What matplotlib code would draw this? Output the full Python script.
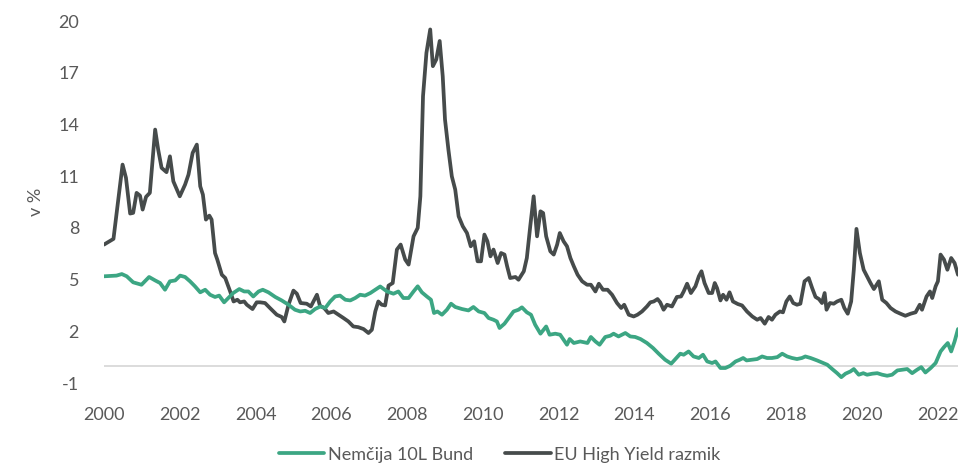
import matplotlib
matplotlib.use('Agg')
import matplotlib.pyplot as plt

# EU High Yield spread (dark line), decimal years
hy_years = [2000.00, 2000.25, 2000.49, 2000.58, 2000.69, 2000.77, 2000.86, 2000.95, 2001.02, 2001.11,
            2001.21, 2001.35, 2001.43, 2001.52, 2001.65, 2001.74, 2001.83, 2002.00, 2002.14, 2002.23,
            2002.34, 2002.45, 2002.54, 2002.61, 2002.69, 2002.78, 2002.84, 2002.93, 2002.99, 2003.11,
            2003.20, 2003.33, 2003.42, 2003.52, 2003.59, 2003.70, 2003.77, 2003.92, 2004.03, 2004.12,
            2004.25, 2004.38, 2004.56, 2004.69, 2004.76, 2004.87, 2005.00, 2005.09, 2005.19, 2005.35,
            2005.46, 2005.62, 2005.70, 2005.81, 2005.92, 2006.06, 2006.19, 2006.32, 2006.45, 2006.58,
            2006.71, 2006.85, 2006.98, 2007.07, 2007.16, 2007.24, 2007.33, 2007.42, 2007.51, 2007.62,
            2007.73, 2007.83, 2007.95, 2008.04, 2008.17, 2008.28, 2008.35, 2008.42, 2008.51, 2008.61,
            2008.68, 2008.77, 2008.86, 2008.94, 2009.00, 2009.09, 2009.18, 2009.27, 2009.36, 2009.47,
            2009.58, 2009.68, 2009.77, 2009.86, 2009.95, 2010.04, 2010.12, 2010.20, 2010.28, 2010.39,
            2010.48, 2010.57, 2010.64, 2010.72, 2010.86, 2010.94, 2011.08, 2011.16, 2011.25, 2011.34,
            2011.43, 2011.52, 2011.59, 2011.67, 2011.78, 2011.87, 2011.96, 2012.03, 2012.13, 2012.22,
            2012.31, 2012.40, 2012.50, 2012.62, 2012.75, 2012.85, 2012.97, 2013.06, 2013.17, 2013.29,
            2013.41, 2013.54, 2013.65, 2013.73, 2013.85, 2013.98, 2014.08, 2014.20, 2014.33, 2014.42,
            2014.51, 2014.61, 2014.68, 2014.77, 2014.86, 2014.99, 2015.12, 2015.23, 2015.30, 2015.39,
            2015.49, 2015.61, 2015.70, 2015.77, 2015.85, 2015.96, 2016.05, 2016.12, 2016.18, 2016.27,
            2016.34, 2016.43, 2016.51, 2016.60, 2016.73, 2016.84, 2016.97, 2017.11, 2017.24, 2017.33,
            2017.44, 2017.54, 2017.63, 2017.72, 2017.84, 2017.92, 2018.01, 2018.10, 2018.19, 2018.29,
            2018.38, 2018.49, 2018.60, 2018.69, 2018.78, 2018.87, 2018.95, 2019.02, 2019.07, 2019.16,
            2019.26, 2019.35, 2019.46, 2019.54, 2019.63, 2019.72, 2019.79, 2019.86, 2019.95, 2020.05,
            2020.14, 2020.23, 2020.32, 2020.45, 2020.54, 2020.65, 2020.76, 2020.89, 2021.02, 2021.15,
            2021.29, 2021.42, 2021.53, 2021.59, 2021.71, 2021.80, 2021.86, 2021.95, 2022.01, 2022.08,
            2022.17, 2022.26, 2022.36, 2022.45, 2022.54]
hy_spread = [7.03, 7.36, 11.67, 10.9, 8.83, 8.87, 10.03, 9.87, 9.06, 9.8,
             10.03, 13.7, 12.54, 11.48, 11.23, 12.15, 10.7, 9.83, 10.51, 11.09,
             12.35, 12.83, 10.41, 9.93, 8.48, 8.71, 8.48, 6.54, 6.16, 5.28,
             5.09, 4.31, 3.73, 3.83, 3.68, 3.73, 3.54, 3.29, 3.68, 3.68,
             3.64, 3.35, 2.96, 2.83, 2.57, 3.54, 4.36, 4.18, 3.64, 3.60,
             3.44, 4.12, 3.48, 3.35, 3.06, 3.15, 2.96, 2.77, 2.57, 2.28,
             2.24, 2.13, 1.90, 2.09, 3.15, 3.73, 3.54, 3.5, 4.65, 4.80,
             6.74, 7.03, 6.16, 5.87, 7.51, 8.0, 9.83, 15.64, 18.15, 19.51,
             17.38, 17.77, 18.84, 16.8, 14.29, 12.54, 10.99, 10.22, 8.67, 8.09,
             7.7, 6.93, 7.22, 6.06, 6.06, 7.61, 7.22, 6.35, 6.74, 5.96,
             6.54, 6.45, 5.77, 5.09, 5.15, 4.99, 5.48, 6.25, 8.09, 9.83,
             7.51, 8.96, 8.86, 7.51, 6.64, 6.45, 7.03, 7.7, 7.22, 6.93,
             6.25, 5.77, 5.28, 4.9, 4.7, 4.7, 4.31, 4.76, 4.41, 4.41,
             4.12, 3.64, 3.35, 3.54, 2.96, 2.86, 2.96, 3.15, 3.44, 3.68,
             3.73, 3.87, 3.68, 3.25, 3.54, 3.44, 3.99, 4.02, 4.31, 4.76,
             4.22, 4.61, 5.19, 5.48, 4.8, 4.22, 4.22, 4.8, 4.51, 3.79,
             4.12, 3.83, 4.26, 3.73, 3.58, 3.5, 3.15, 2.86, 2.67, 2.77,
             2.44, 2.83, 2.67, 2.96, 3.15, 3.1, 3.73, 4.02, 3.64, 3.54,
             3.6, 4.9, 5.09, 4.51, 3.99, 3.87, 3.64, 4.22, 3.25, 3.64,
             3.6, 3.73, 3.83, 3.35, 3.02, 3.73, 5.57, 7.94, 6.54, 5.57,
             5.19, 4.8, 4.45, 4.9, 3.83, 3.64, 3.35, 3.15, 3.02, 2.9,
             3.02, 3.1, 3.54, 3.25, 4.02, 4.31, 3.93, 4.61, 4.9, 6.45,
             6.16, 5.57, 6.25, 5.96, 5.28]

# German 10Y Bund yield (green line)
bund_years = [2000.00, 2000.33, 2000.47, 2000.60, 2000.77, 2000.99, 2001.19, 2001.35, 2001.48, 2001.61,
              2001.74, 2001.88, 2002.01, 2002.14, 2002.27, 2002.40, 2002.54, 2002.67, 2002.80, 2002.93,
              2003.04, 2003.17, 2003.28, 2003.41, 2003.57, 2003.70, 2003.81, 2003.94, 2004.08, 2004.19,
              2004.34, 2004.52, 2004.69, 2004.87, 2005.04, 2005.18, 2005.31, 2005.44, 2005.57, 2005.71,
              2005.84, 2005.97, 2006.10, 2006.23, 2006.37, 2006.50, 2006.63, 2006.76, 2006.89, 2007.03,
              2007.16, 2007.29, 2007.47, 2007.64, 2007.77, 2007.90, 2008.04, 2008.17, 2008.28, 2008.39,
              2008.52, 2008.63, 2008.71, 2008.80, 2008.92, 2009.05, 2009.16, 2009.27, 2009.45, 2009.62,
              2009.75, 2009.89, 2010.04, 2010.15, 2010.28, 2010.37, 2010.44, 2010.57, 2010.68, 2010.81,
              2010.94, 2011.03, 2011.16, 2011.27, 2011.38, 2011.52, 2011.67, 2011.76, 2011.91, 2012.04,
              2012.13, 2012.22, 2012.29, 2012.40, 2012.57, 2012.76, 2012.85, 2012.97, 2013.08, 2013.23,
              2013.36, 2013.45, 2013.58, 2013.76, 2013.89, 2014.02, 2014.16, 2014.33, 2014.49, 2014.64,
              2014.81, 2014.97, 2015.08, 2015.21, 2015.30, 2015.43, 2015.56, 2015.70, 2015.81, 2015.92,
              2016.05, 2016.14, 2016.27, 2016.40, 2016.53, 2016.67, 2016.78, 2016.87, 2016.96, 2017.11,
              2017.24, 2017.37, 2017.50, 2017.63, 2017.77, 2017.90, 2018.03, 2018.16, 2018.29, 2018.42,
              2018.51, 2018.65, 2018.82, 2018.95, 2019.09, 2019.22, 2019.35, 2019.46, 2019.57, 2019.70,
              2019.79, 2019.92, 2020.04, 2020.14, 2020.28, 2020.41, 2020.54, 2020.67, 2020.80, 2020.94,
              2021.07, 2021.20, 2021.33, 2021.46, 2021.57, 2021.68, 2021.82, 2021.95, 2022.08, 2022.17,
              2022.27, 2022.36, 2022.45, 2022.54]
bund_yield = [5.19, 5.23, 5.32, 5.19, 4.84, 4.7, 5.15, 4.95, 4.8, 4.41,
              4.9, 4.95, 5.23, 5.15, 4.9, 4.61, 4.26, 4.41, 4.12, 3.99,
              4.07, 3.68, 3.93, 4.22, 4.45, 4.31, 4.31, 4.02, 4.31, 4.41,
              4.26, 3.99, 3.79, 3.54, 3.25, 3.15, 3.19, 3.06, 3.29, 3.44,
              3.35, 3.73, 4.02, 4.07, 3.83, 3.79, 3.93, 4.12, 4.07, 4.22,
              4.41, 4.6, 4.31, 4.18, 4.31, 3.93, 3.93, 4.31, 4.61, 4.26,
              4.02, 3.83, 3.06, 3.15, 2.96, 3.25, 3.6, 3.41, 3.29, 3.21,
              3.41, 3.15, 3.06, 2.77, 2.67, 2.57, 2.19, 2.44, 2.77, 3.15,
              3.25, 3.39, 3.1, 2.96, 2.38, 1.86, 2.28, 1.8, 1.86, 1.8,
              1.51, 1.22, 1.55, 1.32, 1.41, 1.32, 1.67, 1.41, 1.22, 1.67,
              1.74, 1.86, 1.7, 1.9, 1.7, 1.67, 1.55, 1.32, 1.03, 0.7,
              0.35, 0.12, 0.39, 0.7, 0.64, 0.83, 0.54, 0.45, 0.64, 0.25,
              0.16, 0.25, -0.13, -0.13, 0.0, 0.25, 0.35, 0.45, 0.31, 0.35,
              0.39, 0.54, 0.45, 0.45, 0.5, 0.7, 0.54, 0.45, 0.39, 0.45,
              0.54, 0.45, 0.31, 0.19, 0.06, -0.19, -0.43, -0.66, -0.46, -0.33,
              -0.19, -0.52, -0.43, -0.52, -0.46, -0.43, -0.52, -0.58, -0.52, -0.27,
              -0.23, -0.19, -0.43, -0.23, -0.08, -0.39, -0.13, 0.16, 0.83, 1.08,
              1.32, 0.83, 1.41, 2.13]

year_ticks = list(range(2000, 2023, 2))
value_ticks = [-1, 2, 5, 8, 11, 14, 17, 20]

green = '#3CA683'
dark = '#464B4B'
text_col = '#595959'

plt.rcParams['font.family'] = ['Lato', 'DejaVu Sans']
plt.rcParams['axes.unicode_minus'] = False

fig = plt.figure(figsize=(9.61, 4.66), dpi=100)
ax = fig.add_axes([104 / 961, 1 - 383 / 466, (958 - 104) / 961, (383 - 21) / 466])

ax.axhline(0, color='#D9D9D9', lw=1.3, zorder=1)
ax.plot(bund_years, bund_yield, color=green, lw=2.7, label='Nemčija 10L Bund',
        solid_joinstyle='round', solid_capstyle='round', zorder=3)
ax.plot(hy_years, hy_spread, color=dark, lw=2.7, label='EU High Yield razmik',
        solid_joinstyle='round', solid_capstyle='round', zorder=2)

ax.set_xlim(2000, hy_years[-1])
ax.set_ylim(-1, 20)
ax.set_xticks(year_ticks)
ax.set_yticks(value_ticks)
for s in ax.spines.values():
    s.set_visible(False)
ax.tick_params(axis='both', length=0, labelsize=13, labelcolor=text_col)
ax.tick_params(axis='x', pad=17)
ax.tick_params(axis='y', pad=18)

ax.set_ylabel('v %', fontsize=13, color=text_col, labelpad=10)

fig.legend(loc='lower center', bbox_to_anchor=(0.52, -0.028), ncol=2, frameon=False,
           fontsize=13, labelcolor=text_col, handlelength=2.5, handletextpad=0.2,
           columnspacing=1.8)

fig.savefig('out.png', dpi=100)
